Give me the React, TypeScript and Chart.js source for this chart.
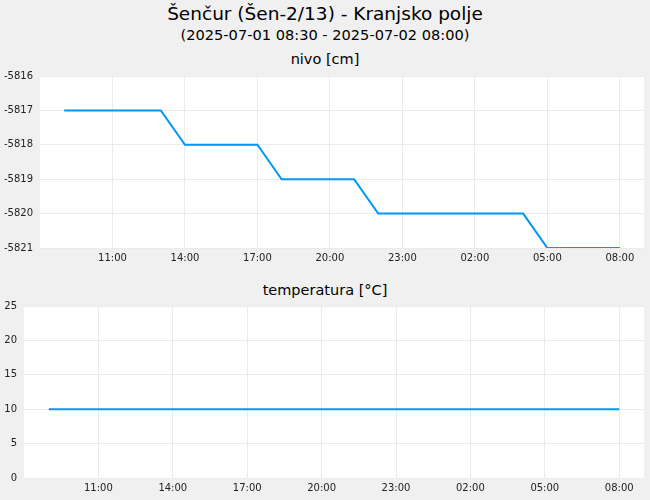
import { useEffect, useRef } from 'react';
import { Chart, registerables } from 'chart.js';

Chart.register(...registerables);

// hours counted from 2025-07-01 00:00 (24 = midnight of 07-02)
const hours = [9, 10, 11, 12, 13, 14, 15, 16, 17, 18, 19, 20, 21, 22, 23, 24, 25, 26, 27, 28, 29, 30, 31, 32];
const nivo = [
  -5817, -5817, -5817, -5817, -5817, -5818, -5818, -5818, -5818, -5819, -5819, -5819,
  -5819, -5820, -5820, -5820, -5820, -5820, -5820, -5820, -5821, -5821, -5821, -5821,
];
const temperatura = [10, 10, 10, 10, 10, 10, 10, 10, 10, 10, 10, 10, 10, 10, 10, 10, 10, 10, 10, 10, 10, 10, 10, 10];
const tickHours = [11, 14, 17, 20, 23, 26, 29, 32];

const FONT = '"DejaVu Sans", Verdana, sans-serif';
const LINE = '#0098f2';
const GRID = '#ebebeb';

const plotBg = {
  id: 'plotBg',
  beforeDraw(chart: Chart) {
    const { ctx, chartArea } = chart;
    if (!chartArea) return;
    ctx.save();
    ctx.fillStyle = '#ffffff';
    ctx.fillRect(chartArea.left, chartArea.top, chartArea.right - chartArea.left, chartArea.bottom - chartArea.top);
    ctx.restore();
  },
};

function hourLabel(v: number) {
  return String(v % 24).padStart(2, '0') + ':00';
}

type PanelProps = {
  values: number[];
  yMin: number;
  yMax: number;
  yStep: number;
  yWidth: number;
};

function Panel({ values, yMin, yMax, yStep, yWidth }: PanelProps) {
  const canvasRef = useRef<HTMLCanvasElement>(null);

  useEffect(() => {
    if (!canvasRef.current) return;
    const chart = new Chart(canvasRef.current, {
      type: 'line',
      data: {
        datasets: [
          {
            data: hours.map((h, i) => ({ x: h, y: values[i] })),
            borderColor: LINE,
            borderWidth: 2,
            pointRadius: 0,
            tension: 0,
            fill: false,
          },
        ],
      },
      options: {
        animation: false,
        responsive: true,
        maintainAspectRatio: false,
        layout: { padding: { top: 0, right: 6, left: 0, bottom: 0 } },
        plugins: { legend: { display: false }, tooltip: { enabled: false } },
        scales: {
          x: {
            type: 'linear',
            min: 8,
            max: 33,
            afterBuildTicks: (scale: any) => {
              scale.ticks = tickHours.map((v) => ({ value: v }));
            },
            afterFit: (scale: any) => {
              scale.height = 20;
            },
            grid: { color: GRID, drawTicks: false },
            border: { display: false },
            ticks: {
              padding: 4,
              maxRotation: 0,
              autoSkip: false,
              color: '#222',
              font: { family: FONT, size: 10 },
              callback: (v: any) => hourLabel(Number(v)),
            },
          },
          y: {
            min: yMin,
            max: yMax,
            afterFit: (scale: any) => {
              scale.width = yWidth;
            },
            grid: { color: GRID, drawTicks: false },
            border: { display: false },
            ticks: {
              stepSize: yStep,
              padding: 7,
              color: '#222',
              font: { family: FONT, size: 10 },
              callback: (v: any) => String(v),
            },
          },
        },
      },
      plugins: [plotBg],
    });
    return () => chart.destroy();
  }, [values, yMin, yMax, yStep, yWidth]);

  return (
    <div style={{ position: 'relative', width: 650, height: 205 }}>
      <canvas ref={canvasRef} />
    </div>
  );
}

const text: React.CSSProperties = {
  position: 'absolute',
  left: 0,
  width: 650,
  textAlign: 'center',
  fontFamily: FONT,
  color: '#000',
  whiteSpace: 'nowrap',
};

export default function App() {
  useEffect(() => {
    document.body.style.margin = '0';
  }, []);

  return (
    <div style={{ position: 'relative', width: 650, height: 500, background: '#f0f0f0', overflow: 'hidden' }}>
      <div style={{ ...text, top: 3, fontSize: 18.5, lineHeight: '22px' }}>Šenčur (Šen-2/13) - Kranjsko polje</div>
      <div style={{ ...text, top: 25, fontSize: 14.6, lineHeight: '20px' }}>(2025-07-01 08:30 - 2025-07-02 08:00)</div>
      <div style={{ ...text, top: 49, fontSize: 14.5, lineHeight: '20px' }}>nivo [cm]</div>
      <div style={{ position: 'absolute', left: 0, top: 63 }}>
        <Panel values={nivo} yMin={-5821} yMax={-5816} yStep={1} yWidth={40} />
      </div>
      <div style={{ ...text, top: 280, fontSize: 14.5, lineHeight: '20px' }}>temperatura [°C]</div>
      <div style={{ position: 'absolute', left: 0, top: 293 }}>
        <Panel values={temperatura} yMin={0} yMax={25} yStep={5} yWidth={24} />
      </div>
    </div>
  );
}
